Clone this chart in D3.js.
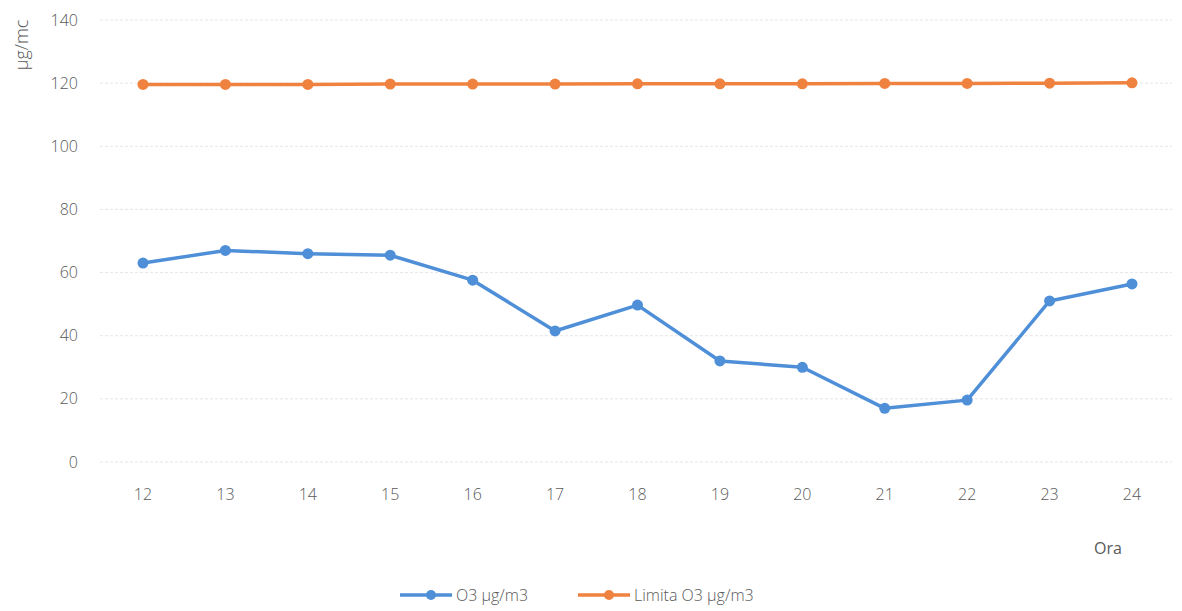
<!DOCTYPE html>
<html>
<head>
<meta charset="utf-8">
<script src="https://cdn.jsdelivr.net/npm/d3@7"></script>
<style>
  body { margin: 0; background: #fff; }
  text { font-family: "Open Sans", "Liberation Sans", sans-serif; fill: #595959; }
</style>
</head>
<body>
<svg id="chart" width="1182" height="611"></svg>
<script>
// hours on the x axis
const hours = ["12", "13", "14", "15", "16", "17", "18", "19", "20", "21", "22", "23", "24"];
// measured ozone
const o3 = [63, 67, 66, 65.5, 57.6, 41.5, 49.7, 32, 30, 17, 19.6, 51, 56.4];
// limit value
const limita = [119.6, 119.6, 119.6, 119.7, 119.7, 119.7, 119.8, 119.8, 119.8, 119.9, 119.9, 120, 120.1];
const yTicks = [0, 20, 40, 60, 80, 100, 120, 140];

const series = [
  { name: "O3 µg/m3", values: o3, color: "#4e8fd8" },
  { name: "Limita O3 µg/m3", values: limita, color: "#f08240" }
];

const svg = d3.select("#chart");

const x = d3.scalePoint().domain(hours).range([143, 1132]);
const y = d3.scaleLinear().domain([0, 140]).range([462, 20]);

// gridlines
svg.append("g")
  .selectAll("line")
  .data(yTicks)
  .join("line")
  .attr("x1", 100).attr("x2", 1172)
  .attr("y1", d => y(d)).attr("y2", d => y(d))
  .attr("stroke", "#e6e6e6")
  .attr("stroke-width", 1)
  .attr("stroke-dasharray", "3,2");

// y axis labels
svg.append("g")
  .selectAll("text")
  .data(yTicks)
  .join("text")
  .attr("x", 78).attr("y", d => y(d))
  .attr("dy", "0.35em")
  .attr("text-anchor", "end")
  .attr("font-size", 16)
  .style("font-weight", 300)
  .text(d => d);

// x axis labels
svg.append("g")
  .selectAll("text")
  .data(hours)
  .join("text")
  .attr("x", d => x(d)).attr("y", 494)
  .attr("dy", "0.35em")
  .attr("text-anchor", "middle")
  .attr("font-size", 16)
  .style("font-weight", 300)
  .text(d => d);

svg.append("text")
  .attr("transform", "translate(22,45) rotate(-90)")
  .attr("text-anchor", "middle")
  .attr("dy", "0.35em")
  .attr("font-size", 18)
  .style("font-weight", 300)
  .text("µg/mc");

svg.append("text")
  .attr("x", 1108).attr("y", 548)
  .attr("dy", "0.35em")
  .attr("text-anchor", "middle")
  .attr("font-size", 16)
  .text("Ora");

const line = d3.line()
  .x((d, i) => x(hours[i]))
  .y(d => y(d));

series.forEach(s => {
  svg.append("path")
    .datum(s.values)
    .attr("fill", "none")
    .attr("stroke", s.color)
    .attr("stroke-width", 3.5)
    .attr("stroke-linejoin", "round")
    .attr("d", line);
  svg.append("g")
    .selectAll("circle")
    .data(s.values)
    .join("circle")
    .attr("cx", (d, i) => x(hours[i]))
    .attr("cy", d => y(d))
    .attr("r", 5.5)
    .attr("fill", s.color);
});

// legend
const legendX = [400, 578];
const legend = svg.append("g")
  .selectAll("g")
  .data(series)
  .join("g")
  .attr("transform", (d, i) => `translate(${legendX[i]},595)`);
legend.append("line")
  .attr("x1", 0).attr("x2", 52)
  .attr("stroke", d => d.color)
  .attr("stroke-width", 3.5);
legend.append("circle")
  .attr("cx", 31).attr("r", 5)
  .attr("fill", d => d.color);
legend.append("text")
  .attr("x", 56)
  .attr("dy", "0.35em")
  .attr("font-size", 16)
  .style("font-weight", 300)
  .text(d => d.name);
</script>
</body>
</html>
